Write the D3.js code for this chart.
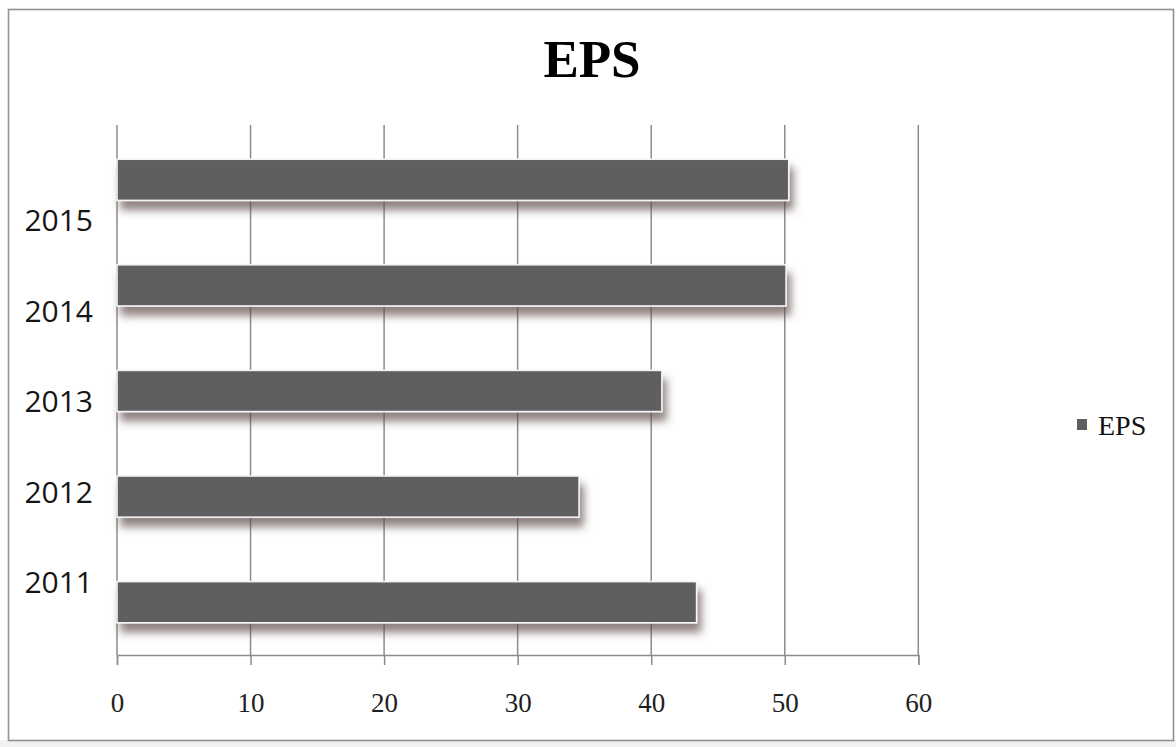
<!DOCTYPE html>
<html>
<head>
<meta charset="utf-8">
<script src="https://cdn.jsdelivr.net/npm/d3@7"></script>
<style>
  html, body { margin: 0; padding: 0; background: #fff; }
  svg { display: block; }
</style>
</head>
<body>
<svg id="chart" width="1176" height="747"></svg>
<script>
// EPS by year
const years = ["2011", "2012", "2013", "2014", "2015"];
const eps = [43.4, 34.6, 40.8, 50.1, 50.3];
const xTicks = [0, 10, 20, 30, 40, 50, 60];
const seriesName = "EPS";
const chartTitle = "EPS";

const W = 1176, H = 747;
const plot = { left: 117, right: 918.3, top: 127, bottom: 655 };
const barColor = "#5e5f60";
const gridColor = "#8c8c8c";

const svg = d3.select("#chart");

// drop shadow under the bars
const defs = svg.append("defs");
const f = defs.append("filter").attr("id", "barShadow")
  .attr("x", "-5%").attr("y", "-30%").attr("width", "115%").attr("height", "200%");
f.append("feGaussianBlur").attr("in", "SourceAlpha").attr("stdDeviation", 4.5).attr("result", "blur");
f.append("feOffset").attr("in", "blur").attr("dx", 4).attr("dy", 9).attr("result", "off");
f.append("feFlood").attr("flood-color", "rgb(92,72,70)").attr("flood-opacity", 0.68).attr("result", "col");
f.append("feComposite").attr("in", "col").attr("in2", "off").attr("operator", "in").attr("result", "shadow");
const m = f.append("feMerge");
m.append("feMergeNode").attr("in", "shadow");
m.append("feMergeNode").attr("in", "SourceGraphic");

// chart area frame
svg.append("rect").attr("x", 0).attr("y", 740).attr("width", W).attr("height", H - 740)
  .attr("fill", "#f1f1f1");
svg.append("rect").attr("x", 8.5).attr("y", 9.5).attr("width", 1165).attr("height", 731)
  .attr("fill", "#fff").attr("stroke", "#929292").attr("stroke-width", 1.6);

// scales
const x = d3.scaleLinear().domain([0, 60]).range([plot.left, plot.right]);
const yDomain = years.slice().reverse();
const y = d3.scaleBand().domain(yDomain).range([plot.top, plot.bottom])
  .paddingInner(0.61).paddingOuter(0.305);
const yLabel = d3.scalePoint().domain(yDomain).range([221, 583]);

// vertical gridlines
svg.append("g").selectAll("line").data(xTicks).join("line")
  .attr("x1", d => x(d)).attr("x2", d => x(d))
  .attr("y1", plot.top - 2).attr("y2", plot.bottom)
  .attr("stroke", gridColor).attr("stroke-width", 1.5);

// x axis
const xAxis = svg.append("g").attr("transform", `translate(0,${plot.bottom})`)
  .call(d3.axisBottom(x).tickValues(xTicks).tickSize(10).tickFormat(d3.format("d")));
xAxis.select(".domain").attr("stroke", gridColor).attr("stroke-width", 1.5);
xAxis.selectAll(".tick line").attr("stroke", gridColor).attr("stroke-width", 1.5);
xAxis.selectAll(".tick text")
  .attr("y", 57).attr("dy", null)
  .attr("font-family", "'Liberation Serif', 'Times New Roman', serif")
  .attr("font-size", 27).attr("fill", "#1e1e1e");

// bars
svg.append("g").selectAll("rect").data(years).join("rect")
  .attr("x", x(0))
  .attr("y", d => y(d))
  .attr("width", (d, i) => x(eps[i]) - x(0))
  .attr("height", y.bandwidth())
  .attr("fill", barColor)
  .attr("stroke", "#f4f4f4").attr("stroke-width", 1.6)
  .attr("filter", "url(#barShadow)");

// category labels
const yAxis = svg.append("g").attr("transform", "translate(93,0)")
  .call(d3.axisLeft(yLabel).tickSize(0).tickPadding(0));
yAxis.select(".domain").remove();
yAxis.selectAll(".tick text")
  .attr("font-family", "'Open Sans', sans-serif")
  .attr("font-size", 30).attr("fill", "#151515");

// title
svg.append("text").attr("x", 592).attr("y", 77).attr("text-anchor", "middle")
  .attr("font-family", "'Liberation Serif', 'Times New Roman', serif")
  .attr("font-weight", "bold").attr("font-size", 53).attr("fill", "#000")
  .text(chartTitle);

// legend
const lg = svg.append("g").attr("transform", "translate(1077,419)");
lg.append("rect").attr("width", 10).attr("height", 11).attr("fill", barColor);
lg.append("text").attr("x", 21).attr("y", 16)
  .attr("font-family", "'Liberation Serif', 'Times New Roman', serif")
  .attr("font-size", 28).attr("fill", "#111").text(seriesName);
</script>
</body>
</html>
